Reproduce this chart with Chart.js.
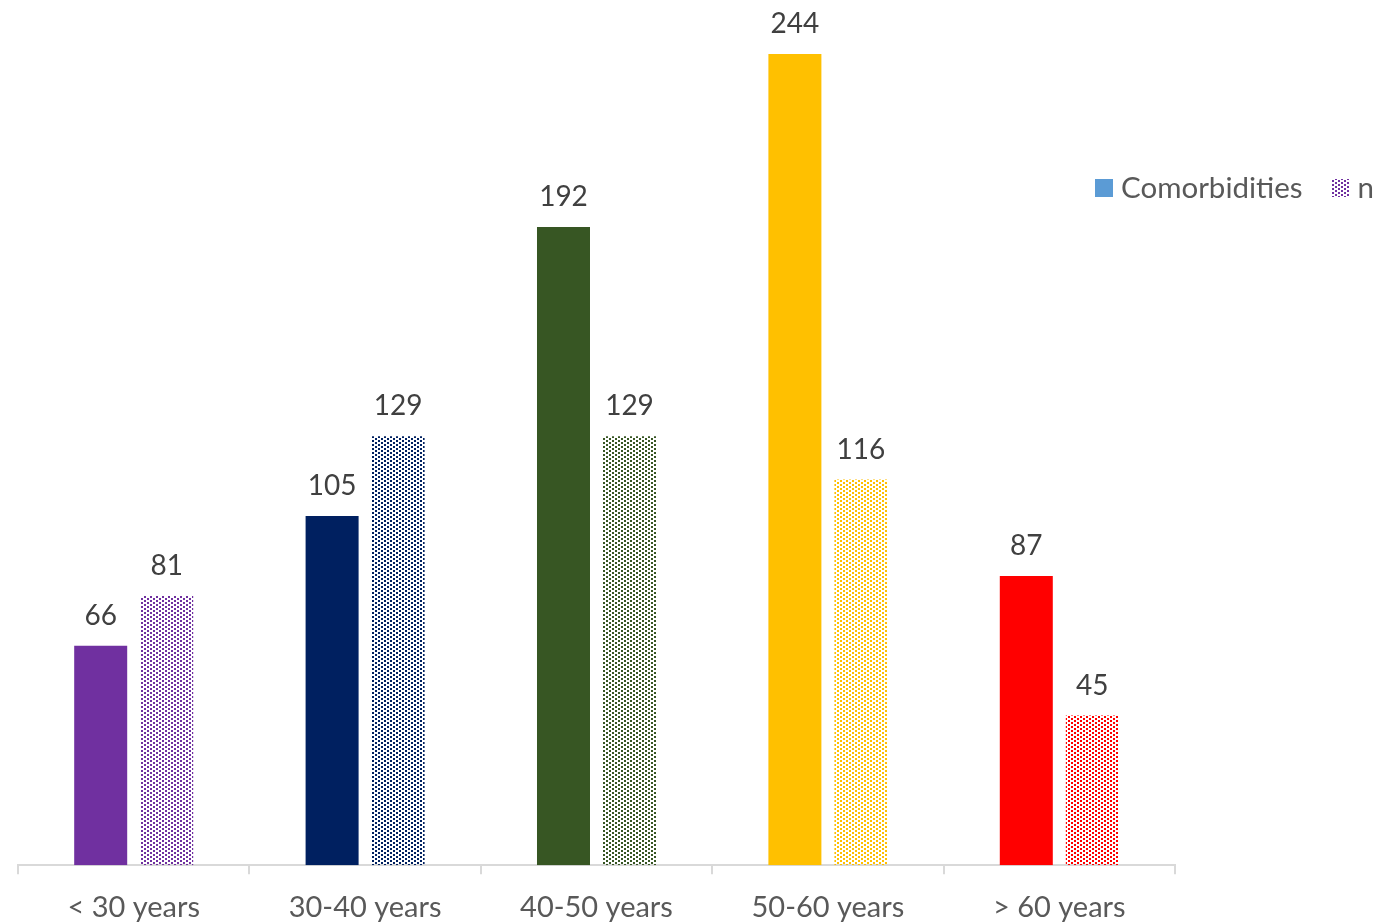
<!DOCTYPE html>
<html>
<head>
<meta charset="utf-8">
<script src="https://cdn.jsdelivr.net/npm/chart.js@4.4.1/dist/chart.umd.min.js"></script>
<style>
html,body{margin:0;padding:0;background:#fff;}
#wrap{width:1381px;height:922px;position:relative;}
</style>
</head>
<body>
<div id="wrap"><canvas id="c" width="1381" height="922"></canvas></div>
<script>
const categories = ['< 30 years', '30-40 years', '40-50 years', '50-60 years', '> 60 years'];
const comorbidities = [66, 105, 192, 244, 87];
const nValues = [81, 129, 129, 116, 45];
const seriesNames = ['Comorbidities', 'n'];
const categoryColors = ['#7030A0', '#002060', '#375623', '#FFC000', '#FF0000'];
const legendColor = '#5B9BD5';
const FONT = 'Lato, "Open Sans", sans-serif';

function makePattern(color) {
  const t = document.createElement('canvas');
  t.width = 6; t.height = 4;
  const g = t.getContext('2d');
  g.fillStyle = color;
  g.fillRect(0, 0, 2, 2);
  g.fillRect(3, 2, 2, 2);
  return g.createPattern(t, 'repeat');
}
const ctx = document.getElementById('c').getContext('2d');
const patterns = categoryColors.map(makePattern);

const valueLabels = {
  id: 'valueLabels',
  afterDatasetsDraw(chart) {
    const c = chart.ctx;
    c.save();
    c.font = '28px ' + FONT;
    c.fillStyle = '#404040';
    c.textAlign = 'center';
    c.textBaseline = 'bottom';
    chart.data.datasets.forEach((ds, di) => {
      const meta = chart.getDatasetMeta(di);
      meta.data.forEach((bar, i) => {
        c.fillText(String(ds.data[i]), bar.x, bar.y - 16);
      });
    });
    c.restore();
  }
};

const customLegend = {
  id: 'customLegend',
  afterDraw(chart) {
    const c = chart.ctx;
    c.save();
    c.font = '29.5px ' + FONT;
    c.textBaseline = 'middle';
    c.textAlign = 'left';
    const y = 188;
    let x = 1095;
    const fills = [legendColor, patterns[0]];
    seriesNames.forEach((name, i) => {
      c.fillStyle = fills[i];
      c.fillRect(x, y - 9, 18, 18);
      c.fillStyle = '#595959';
      c.fillText(name, x + 26, y);
      x += 26 + c.measureText(name).width + 29;
    });
    c.restore();
  }
};

new Chart(ctx, {
  type: 'bar',
  data: {
    labels: categories,
    datasets: [
      { label: seriesNames[0], data: comorbidities, backgroundColor: categoryColors,
        categoryPercentage: 0.5705, barPercentage: 0.803 },
      { label: seriesNames[1], data: nValues, backgroundColor: patterns,
        categoryPercentage: 0.5705, barPercentage: 0.803 }
    ]
  },
  options: {
    responsive: false,
    animation: false,
    events: [],
    layout: { padding: { left: 18, right: 206, top: 54, bottom: -19 } },
    plugins: { legend: { display: false }, tooltip: { enabled: false } },
    scales: {
      x: {
        offset: true,
        grid: { display: true, drawOnChartArea: false, drawTicks: true, tickLength: 9, color: '#D9D9D9', lineWidth: 2, offset: true },
        border: { display: true, color: '#D9D9D9', width: 2 },
        ticks: { color: '#595959', font: { family: FONT, size: 29 }, padding: 16, maxRotation: 0, autoSkip: false }
      },
      y: { display: false, min: 0, max: 244 }
    }
  },
  plugins: [valueLabels, customLegend]
});
</script>
</body>
</html>
